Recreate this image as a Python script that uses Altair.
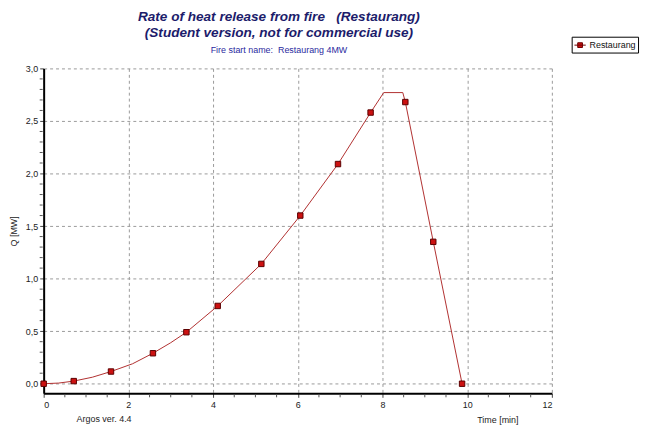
import altair as alt
import pandas as pd

# Marker points (time [min], Q [MW])
time_markers = [0.0, 0.71, 1.59, 2.58, 3.37, 4.11, 5.14, 6.06, 6.95, 7.72, 8.54, 9.20, 9.88]
q_markers = [0.0, 0.025, 0.116, 0.29, 0.49, 0.74, 1.14, 1.60, 2.09, 2.58, 2.68, 1.35, 0.0]

# Curve points
time_line = [0.0, 0.35, 0.71, 1.15, 1.59, 2.1, 2.58, 3.0, 3.37, 4.11, 5.14, 6.06, 6.95, 7.72, 8.03, 8.48, 8.54, 9.20, 9.88]
q_line = [0.0, 0.006, 0.025, 0.062, 0.116, 0.19, 0.29, 0.39, 0.49, 0.74, 1.14, 1.60, 2.09, 2.58, 2.77, 2.77, 2.68, 1.35, 0.0]

series_name = "Restaurang"
x_major_ticks = [0, 2, 4, 6, 8, 10, 12]
x_minor_ticks = [0.5, 1.0, 1.5, 2.5, 3.0, 3.5, 4.5, 5.0, 5.5, 6.5, 7.0, 7.5,
                 8.5, 9.0, 9.5, 10.5, 11.0, 11.5]
y_major_ticks = [0.0, 0.5, 1.0, 1.5, 2.0, 2.5, 3.0]
y_minor_ticks = [0.1, 0.2, 0.3, 0.4, 0.6, 0.7, 0.8, 0.9, 1.1, 1.2, 1.3, 1.4,
                 1.6, 1.7, 1.8, 1.9, 2.1, 2.2, 2.3, 2.4, 2.6, 2.7, 2.8, 2.9]

FONT = "Liberation Sans"
W, H = 513, 328

markers = pd.DataFrame({"t": time_markers, "q": q_markers, "series": series_name})
curve = pd.DataFrame({"t": time_line, "q": q_line})

x_scale = alt.Scale(domain=[0, 12], nice=False, zero=False)
y_scale = alt.Scale(domain=[-0.0915, 3.0], nice=False, zero=False)

x_enc = alt.X(
    "t:Q",
    scale=x_scale,
    axis=alt.Axis(
        values=x_major_ticks,
        format="d",
        grid=True,
        gridDash=[3, 3],
        gridColor="#9a9a9a",
        gridWidth=1,
        domainColor="black",
        domainWidth=2,
        tickColor="#444",
        tickSize=4,
        labelFontSize=9,
        labelColor="#222",
        labelPadding=3,
        title="Time [min]",
        titleFontSize=9,
        titleFontWeight="normal",
        titleColor="#222",
        titleX=458,
        titleY=26,
        titleAlign="center",
        titleBaseline="middle",
    ),
)

y_enc = alt.Y(
    "q:Q",
    scale=y_scale,
    axis=alt.Axis(
        values=y_major_ticks,
        labelExpr="replace(format(datum.value, '.1f'), '.', ',')",
        grid=True,
        gridDash=[3, 3],
        gridColor="#9a9a9a",
        gridWidth=1,
        domainColor="black",
        domainWidth=2,
        tickColor="#444",
        tickSize=4,
        labelFontSize=9,
        labelColor="#222",
        labelPadding=2,
        labelOverlap=False,
        title="Q [MW]",
        titleFontSize=9,
        titleFontWeight="normal",
        titleColor="#222",
        titleX=-30,
        titleY=164,
        titleAlign="center",
        titleBaseline="middle",
    ),
)

line = alt.Chart(curve).mark_line(color="#b03030", strokeWidth=1).encode(
    x=x_enc, y=y_enc, order="t:Q"
)

# minor ticks on both axes, placed through the shared scales
y_minor = alt.Chart(pd.DataFrame({"v": y_minor_ticks})).mark_rule(
    color="#555", strokeWidth=1
).encode(y=alt.Y("v:Q", scale=y_scale), x=alt.value(-4), x2=alt.value(-1))

x_minor = alt.Chart(pd.DataFrame({"v": x_minor_ticks})).mark_rule(
    color="#555", strokeWidth=1
).encode(x=alt.X("v:Q", scale=x_scale), y=alt.value(H + 1), y2=alt.value(H + 4))

legend_path = "M-1,0H1M-0.42,-0.42H0.42V0.42H-0.42Z"

points = alt.Chart(markers).mark_point(
    shape="square", filled=True, size=30, stroke="#5a0000", strokeWidth=1, opacity=1
).encode(
    x="t:Q",
    y="q:Q",
    fill=alt.Fill(
        "series:N",
        scale=alt.Scale(domain=[series_name], range=["#cc1111"]),
        legend=alt.Legend(
            title=None,
            orient="none",
            legendX=533,
            legendY=-32,
            symbolType=legend_path,
            symbolSize=130,
            symbolStrokeColor="#6a0000",
            symbolStrokeWidth=1,
            strokeColor="black",
            fillColor="white",
            padding=2,
            labelOffset=3,
            labelFontSize=9,
            labelColor="#111",
            labelFont=FONT,
        ),
    ),
)

note = alt.Chart(pd.DataFrame({"txt": ["Argos ver. 4.4"]})).mark_text(
    fontSize=9, color="#222", align="center", baseline="middle", font=FONT
).encode(text="txt:N", x=alt.value(61), y=alt.value(354))

chart = alt.layer(y_minor, x_minor, line, points, note).properties(
    width=W,
    height=H,
    autosize=alt.AutoSizeParams(type="none"),
    padding={"left": 36, "top": 59, "right": 92, "bottom": 32},
    title=alt.TitleParams(
        text=["Rate of heat release from fire\u00a0\u00a0\u00a0(Restaurang)",
              "(Student version, not for commercial use)"],
        subtitle="Fire start name:\u00a0\u00a0Restaurang 4MW",
        font=FONT,
        fontSize=13.7,
        fontStyle="italic",
        fontWeight="bold",
        color="#1c1c6b",
        lineHeight=16,
        subtitleFont=FONT,
        subtitleFontSize=9,
        subtitleColor="#2a2aa0",
        subtitlePadding=7,
        anchor="middle",
        dx=-19,
        offset=-19,
    ),
).configure(font=FONT).configure_view(stroke=None)

chart.save("out.html", embed_options={"renderer": "svg", "actions": False})
